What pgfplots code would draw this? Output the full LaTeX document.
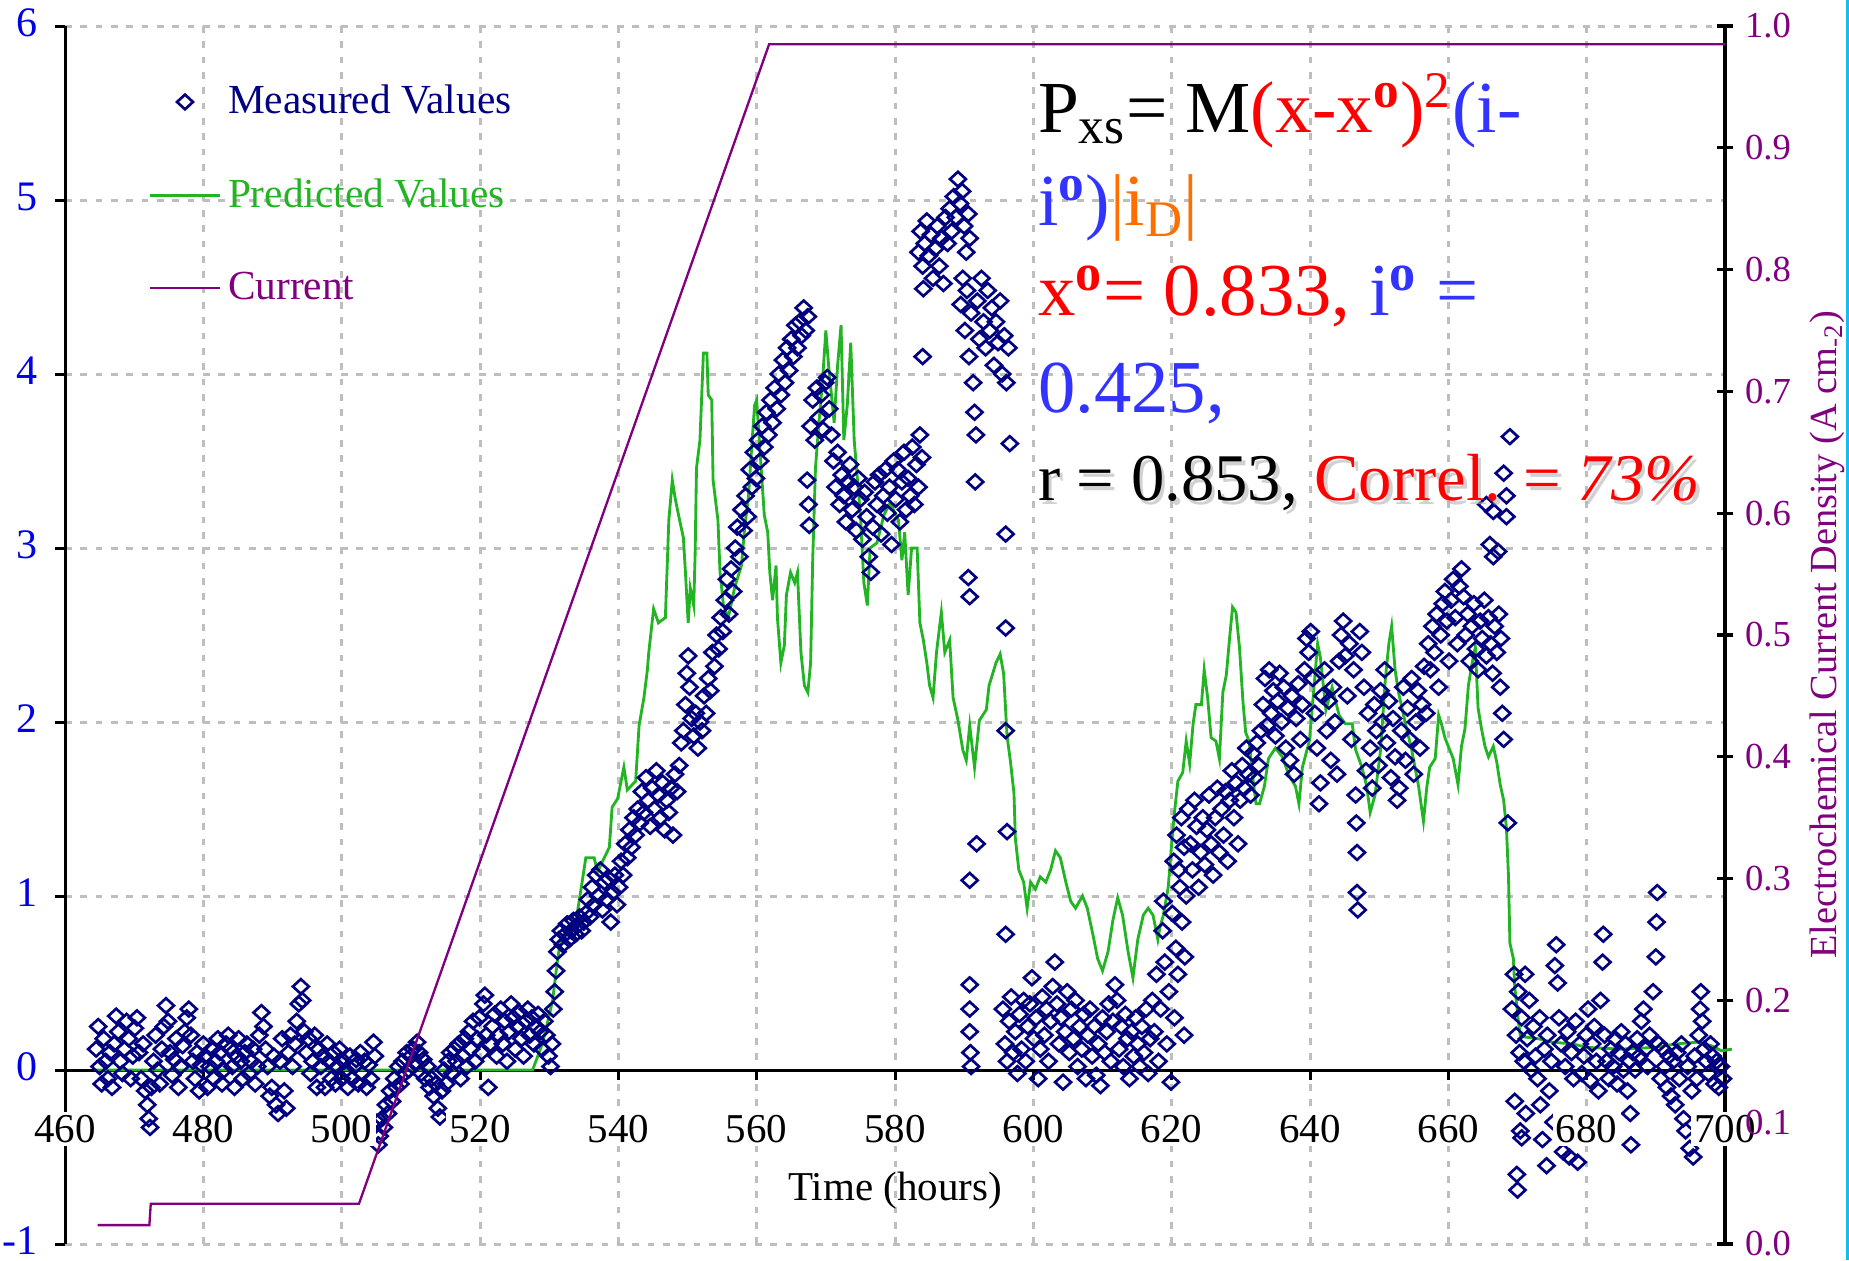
\documentclass[border=0pt]{standalone}
\usepackage{pgfplots}
\pgfplotsset{compat=1.18}
\usepackage{fontspec}
\setmainfont{Liberation Serif}

\definecolor{navyD}{RGB}{0,0,128}
\definecolor{greenP}{RGB}{34,180,34}
\definecolor{purpleC}{RGB}{128,0,128}
\definecolor{blueF}{RGB}{51,51,255}
\definecolor{orangeF}{RGB}{255,110,0}
\definecolor{tickblue}{RGB}{0,0,230}
\definecolor{gridgray}{RGB}{190,190,190}
\definecolor{cyanedge}{RGB}{20,190,240}

\newcommand{\dg}{\textsuperscript{\textbf{o}}}

\pgfplotsset{
  layers/labels on top/.define layer set={axis background,axis grid,axis ticks,axis lines,pre main,main,axis tick labels,axis descriptions,axis foreground}{/pgfplots/layers/standard},
}

\begin{document}
\begin{tikzpicture}

% left axis: measured and predicted values
\begin{axis}[
  set layers=labels on top,
  at={(19.5pt,4.8pt)}, anchor=south west,
  scale only axis, width=498pt, height=365.4pt,
  xmin=460, xmax=700, ymin=-1, ymax=6,
  clip=false,
  axis x line*=middle, axis y line*=left,
  hide obscured x ticks=false, hide obscured y ticks=false,
  axis line style={black, line width=0.9pt},
  xtick={460,480,...,700},
  xticklabels={460,480,500,520,540,560,580,600,620,640,660,680,700},
  ytick={-1,0,1,2,3,4,5,6},
  yticklabels={-1,0,1,2,3,4,5,6},
  tick align=outside,
  major tick length=3pt,
  tick style={black, line width=0.9pt},
  grid=major,
  grid style={gridgray, line width=0.9pt, dash pattern=on 2pt off 2.6pt},
  xticklabel style={font=\fontsize{12.3}{14}\selectfont, fill=white, inner sep=1pt, yshift=-9.3pt},
  yticklabel style={font=\fontsize{12.6}{14}\selectfont, text=tickblue, xshift=-1.6pt, yshift=0.9pt},
  xlabel={Time (hours)},
  xlabel style={at={(axis description cs:0.5,0.044)}, anchor=center, font=\fontsize{12.3}{14}\selectfont},
  legend cell align=left,
  legend style={draw=none, fill=none, at={(axis description cs:0.050,0.9575)}, anchor=north west,
    inner sep=0pt, row sep=13.9pt, font=\fontsize{12.4}{14}\selectfont, nodes={inner sep=2pt}},
  legend image code/.code={\draw[mark repeat=2,mark phase=2,#1] plot coordinates {(0pt,0pt) (10.5pt,0pt) (21pt,0pt)};},
]
\addlegendimage{only marks, mark=diamond, navyD, line width=0.8pt, mark size=2.2pt, mark options={xscale=1.45}}
\addlegendentry{\textcolor{navyD}{Measured Values}}
\addlegendimage{greenP, line width=0.8pt}
\addlegendentry{\textcolor{greenP}{Predicted Values}}
\addlegendimage{purpleC, line width=0.7pt}
\addlegendentry{\textcolor{purpleC}{Current}}

\addplot[greenP, line width=0.85pt, forget plot] coordinates {
(464.5,0)(527.6,0)(529.1,0.16)(530.5,0.40)(531.2,0.63)(531.7,0.76)(533.9,0.86)(534.8,1.09)
(535.3,1.22)(536.5,1.22)(537.0,1.14)(538.7,1.28)(539.1,1.51)(539.9,1.56)(540.8,1.74)(541.3,1.61)
(542.5,1.66)(543.0,1.98)(543.7,2.14)(544.2,2.30)(544.4,2.40)(545.1,2.65)(545.8,2.57)(546.8,2.60)
(547.3,3.16)(547.8,3.39)(548.2,3.29)(548.7,3.19)(549.4,3.06)(549.7,2.86)(550.1,2.57)(550.4,2.77)
(550.9,2.67)(551.1,2.96)(551.3,3.46)(551.8,3.62)(552.3,4.12)(552.8,4.12)(553.0,3.88)(553.5,3.85)
(553.7,3.39)(554.4,3.16)(554.7,2.86)(555.2,2.67)(555.9,2.60)(556.8,2.77)(557.8,2.90)(558.3,3.13)
(558.8,3.29)(559.3,3.59)(559.7,3.82)(560.0,3.85)(560.5,3.55)(561.1,3.19)(561.6,3.09)(561.9,2.86)
(562.3,2.70)(562.8,2.90)(563.0,2.60)(563.5,2.34)(564.0,2.44)(564.3,2.73)(564.9,2.86)(565.5,2.80)
(565.9,2.86)(566.4,2.40)(566.9,2.21)(567.4,2.17)(567.8,2.34)(568.1,2.93)(568.5,3.46)(569.0,3.72)
(569.5,3.95)(570.0,4.25)(570.4,4.05)(571.2,3.72)(571.7,4.05)(572.2,4.28)(572.6,3.62)(573.1,3.82)
(573.6,4.18)(574.1,3.62)(575.0,3.19)(575.5,2.80)(576.0,2.67)(576.4,3.00)(577.4,3.03)(578.4,3.19)
(579.3,3.26)(580.5,3.16)(581.0,2.93)(581.4,3.09)(581.9,2.73)(582.4,3.00)(583.2,3.00)(583.6,2.57)
(584.1,2.47)(584.6,2.34)(585.0,2.21)(585.5,2.14)(586.0,2.40)(586.7,2.63)(587.2,2.40)(587.9,2.47)
(588.4,2.14)(589.1,2.01)(589.8,1.84)(590.3,1.78)(590.8,1.98)(591.5,1.74)(592.2,2.01)(593.2,2.07)
(593.6,2.21)(594.6,2.34)(595.2,2.39)(595.7,2.28)(596.2,1.92)(596.7,1.77)(597.2,1.59)(597.4,1.33)
(597.9,1.15)(598.6,1.08)(599.1,0.93)(599.6,1.08)(600.3,1.04)(601.0,1.11)(601.8,1.08)(602.5,1.15)
(603.2,1.26)(603.9,1.22)(604.7,1.08)(605.4,0.97)(606.1,0.93)(607.1,1.00)(607.8,0.93)(608.6,0.78)
(609.3,0.64)(610.0,0.57)(610.8,0.68)(611.5,0.86)(612.2,0.99)(612.9,0.89)(613.7,0.68)(614.4,0.53)
(615.1,0.75)(615.9,0.89)(616.6,0.93)(617.3,0.89)(618.0,0.75)(618.3,0.82)(618.8,0.89)(619.5,1.05)
(620.0,1.30)(620.4,1.48)(620.9,1.66)(621.6,1.71)(622.1,1.89)(622.6,1.76)(623.1,1.99)(623.5,2.10)
(624.3,2.10)(624.7,2.30)(625.2,2.14)(625.7,1.91)(626.4,1.89)(626.9,1.79)(627.4,2.17)(627.9,2.27)
(628.3,2.45)(628.8,2.66)(629.3,2.63)(629.8,2.43)(630.3,2.12)(630.7,1.94)(631.2,1.89)(631.7,1.69)
(632.2,1.53)(632.7,1.53)(633.4,1.63)(634.0,1.79)(635.0,1.85)(636.0,1.80)(637.0,1.69)(637.9,1.63)
(638.4,1.53)(638.9,1.74)(639.9,1.89)(640.3,2.07)(641.1,2.45)(641.5,2.37)(642.3,2.07)(643.2,2.20)
(644.2,2.04)(645.1,1.99)(646.1,1.99)(646.6,1.84)(647.5,1.74)(648.2,1.63)(648.7,1.48)(649.4,1.58)
(650.2,1.84)(650.9,2.25)(651.4,2.45)(651.8,2.55)(652.3,2.30)(652.8,2.17)(653.8,1.99)(654.7,1.84)
(655.7,1.63)(656.4,1.43)(656.9,1.63)(657.3,1.74)(658.1,1.79)(658.6,2.04)(659.0,1.99)(659.5,1.91)
(660.2,1.84)(660.7,1.79)(661.4,1.64)(661.9,1.86)(662.4,1.96)(662.9,2.21)(663.4,2.33)(663.9,2.43)
(664.3,2.08)(664.8,1.96)(665.3,1.86)(665.8,1.80)(666.5,1.86)(667.0,1.77)(667.5,1.64)(668.0,1.55)
(668.4,1.39)(668.7,1.11)(668.9,0.73)(669.4,0.64)(669.6,0.48)(670.1,0.29)(670.4,0.20)(671.0,0.19)
(673.0,0.18)(675.0,0.16)(678.0,0.15)(680.0,0.13)(685.0,0.12)(690.0,0.13)(693.0,0.15)(696.0,0.16)
(698.0,0.14)(699.5,0.11)(701.0,0.12)
};

\addplot[only marks, mark=diamond, navyD, line width=0.8pt, mark size=2.2pt, mark options={xscale=1.45}, forget plot] coordinates {
(464.5,0.12)(464.8,0.25)(465.0,0.02)(465.3,-0.08)(465.6,0.18)(465.9,0.05)(466.2,-0.05)(466.5,0.10)
(466.8,-0.10)(467.1,0.15)(467.4,0.31)(467.7,0.22)(468.0,0.05)(468.3,-0.02)(468.6,0.12)(468.9,0.28)
(469.2,0.18)(469.5,-0.05)(469.8,0.08)(470.1,0.24)(470.4,0.30)(470.7,0.10)(471.0,-0.05)(471.3,0.15)
(471.6,-0.12)(471.9,-0.20)(472.1,-0.28)(472.3,-0.33)(472.5,-0.10)(472.8,0.05)(473.1,0.20)(473.4,0.00)
(473.7,-0.08)(474.0,0.12)(474.3,0.25)(474.6,0.37)(474.9,0.28)(475.2,0.10)(475.5,-0.03)(475.8,0.06)
(476.1,0.18)(476.4,-0.10)(476.7,0.02)(477.0,0.14)(477.3,0.22)(477.6,0.30)(477.9,0.35)(478.2,0.20)
(478.5,0.05)(478.8,-0.05)(479.1,0.10)(479.4,-0.12)(479.7,0.03)(480.0,0.15)(480.3,0.08)(480.6,-0.10)
(480.9,0.02)(481.2,0.12)(481.5,-0.05)(481.8,0.05)(482.1,0.18)(482.4,0.10)(482.7,-0.08)(483.0,0.00)
(483.3,0.15)(483.6,0.20)(483.9,0.12)(484.2,0.02)(484.5,-0.10)(484.8,0.08)(485.1,0.18)(485.4,0.05)
(485.7,-0.05)(486.0,0.10)(486.3,0.15)(486.6,-0.02)(486.9,0.05)(487.2,0.12)(487.5,-0.08)(487.8,0.02)
(488.1,0.20)(488.4,0.33)(488.7,0.25)(489.0,0.12)(489.3,0.02)(489.6,-0.15)(489.9,-0.10)(490.2,0.08)
(490.5,-0.20)(490.8,-0.25)(491.1,0.05)(491.4,0.18)(491.7,-0.12)(492.0,-0.22)(492.3,0.10)(492.6,0.20)
(492.9,0.02)(493.2,0.15)(493.5,0.28)(493.8,0.38)(494.1,0.48)(494.3,0.40)(494.6,0.22)(494.9,0.10)
(495.2,0.18)(495.5,-0.02)(495.8,0.05)(496.1,0.20)(496.4,-0.10)(496.7,0.12)(497.0,0.02)(497.3,0.08)
(497.6,-0.10)(497.9,0.15)(498.2,0.05)(498.5,-0.05)(498.8,0.10)(499.1,-0.08)(499.4,0.02)(499.7,0.12)
(500.0,-0.05)(500.3,0.05)(500.6,0.00)(500.9,-0.10)(501.2,0.08)(501.5,-0.05)(501.8,0.02)(502.1,0.06)
(502.4,-0.08)(502.7,0.10)(503.0,-0.02)(503.3,0.05)(503.6,-0.10)(503.9,0.03)(504.2,-0.05)(504.6,0.16)
(504.8,0.08)(505.1,-0.30)(505.3,-0.43)(505.5,-0.38)(505.8,-0.28)(506.1,-0.33)(506.4,-0.20)(506.7,-0.25)
(507.0,-0.12)(507.3,-0.18)(507.6,-0.05)(507.9,-0.10)(508.2,0.02)(508.5,-0.08)(508.8,0.05)(509.1,-0.02)
(509.4,0.10)(509.7,0.00)(510.0,0.08)(510.3,0.12)(510.6,0.04)(510.9,0.16)(511.2,0.10)(511.5,-0.02)
(511.8,0.06)(512.1,-0.05)(512.4,0.02)(512.7,-0.10)(513.0,-0.05)(513.3,-0.15)(513.6,-0.08)(513.9,-0.22)
(514.2,-0.27)(514.5,-0.12)(514.8,0.00)(515.1,-0.08)(515.4,0.05)
(515.7,0.10)(516.0,-0.02)(516.3,0.12)(516.6,0.05)(516.9,0.15)(517.2,-0.05)(517.5,0.08)(517.8,0.18)
(518.1,0.02)(518.4,0.22)(518.7,0.12)(519.0,0.28)(519.3,0.05)(519.6,0.18)(519.9,0.30)(520.2,0.10)
(520.5,0.38)(520.7,0.43)(520.9,0.20)(521.2,-0.10)(521.5,0.15)(521.8,0.25)(522.1,0.32)(522.4,0.08)
(522.7,0.20)(523.0,0.35)(523.3,0.15)(523.6,0.28)(523.9,0.05)(524.2,0.22)(524.5,0.38)(524.8,0.30)
(525.1,0.12)(525.4,0.25)(525.7,0.33)(526.0,0.18)(526.3,0.08)(526.6,0.28)(526.9,0.35)(527.2,0.20)
(527.5,0.30)(527.8,0.15)(528.1,0.25)(528.4,0.32)(528.7,0.22)(529.0,0.12)(529.3,0.28)(529.6,0.20)
(529.9,0.08)(530.2,0.02)(530.4,0.15)(530.6,0.35)(530.8,0.45)(531.0,0.57)(531.2,0.68)(531.4,0.75)
(531.7,0.80)(532.0,0.72)(532.3,0.78)(532.6,0.84)(532.9,0.75)(533.2,0.80)(533.5,0.86)(533.8,0.78)
(534.1,0.83)(534.4,0.88)(534.7,0.80)(535.0,0.85)(535.3,0.90)(535.6,0.98)(535.9,0.88)(536.2,1.05)
(536.5,0.95)(536.8,1.12)(537.1,1.00)(537.4,1.15)(537.7,0.92)(538.0,1.08)(538.3,0.98)(538.6,1.10)
(538.9,0.85)(539.2,1.02)(539.5,1.12)(539.8,0.95)(540.1,1.05)(540.4,1.20)(540.7,1.12)(541.0,1.30)
(541.3,1.22)(541.6,1.38)(541.9,1.28)(542.2,1.45)(542.5,1.35)(542.8,1.50)(543.1,1.42)(543.4,1.60)
(543.7,1.48)(544.0,1.68)(544.3,1.55)(544.6,1.40)(544.9,1.62)(545.2,1.50)(545.5,1.72)(545.8,1.58)
(546.1,1.45)(546.4,1.65)(546.7,1.38)(547.0,1.55)(547.3,1.48)(547.6,1.62)(547.9,1.35)(548.2,1.70)
(548.5,1.60)(548.8,1.75)(549.1,1.88)(549.4,1.95)(549.7,2.10)(549.9,2.28)(550.1,2.38)(550.3,2.20)
(550.6,2.02)(550.9,1.92)(551.2,2.05)(551.5,1.85)(551.8,2.00)(552.1,1.95)(552.4,2.15)(552.7,2.05)
(553.0,2.25)(553.3,2.18)(553.6,2.40)(553.9,2.32)(554.2,2.50)(554.5,2.42)(554.8,2.60)(555.1,2.52)
(555.4,2.70)(555.7,2.82)(556.0,2.62)(556.3,2.88)(556.6,2.75)(556.9,3.00)(557.2,3.12)(557.5,2.95)
(557.8,3.22)(558.1,3.10)(558.4,3.30)(558.7,3.18)(559.0,3.45)(559.3,3.35)(559.6,3.55)(559.9,3.40)
(560.2,3.62)(560.5,3.50)(560.8,3.70)(561.1,3.58)(561.4,3.78)(561.7,3.65)(562.0,3.85)(562.3,3.72)
(562.6,3.92)(562.9,3.80)(563.2,4.00)(563.5,3.88)(563.8,4.08)(564.1,3.95)(564.4,4.15)(564.7,4.02)
(565.0,4.20)(565.3,4.10)(565.6,4.28)(565.9,4.15)(566.2,4.30)(566.5,4.22)(566.8,4.38)(567.1,4.25)
(567.4,4.33)(567.3,3.39)(567.5,3.25)(567.6,3.13)(567.8,3.70)(568.1,3.85)(568.4,3.62)(568.7,3.92)
(569.0,3.75)(569.3,3.88)(569.6,3.68)(569.9,3.95)(570.2,3.98)(570.5,3.80)(570.8,3.65)
(571.1,3.50)(571.4,3.35)(571.7,3.55)(572.0,3.25)(572.3,3.42)(572.6,3.30)(572.9,3.15)(573.2,3.38)
(573.5,3.48)(573.8,3.22)(574.1,3.35)(574.4,3.10)(574.7,3.40)(575.0,3.28)(575.3,3.05)(575.6,3.32)
(575.9,3.18)(576.2,2.95)(576.5,2.86)(576.8,3.12)(577.1,3.38)(577.4,3.25)(577.7,3.42)(578.0,3.08)
(578.3,3.30)(578.6,3.45)(578.9,3.20)(579.2,3.35)(579.5,3.02)(579.8,3.50)
(580.1,3.28)(580.4,3.45)(580.7,3.15)(581.0,3.38)(581.3,3.55)(581.6,3.22)(581.9,3.40)(582.2,3.30)
(582.5,3.58)(582.8,3.25)(583.1,3.48)(583.4,3.35)(583.6,3.65)(583.9,3.52)(584.0,4.10)(584.1,4.49)
(583.4,4.70)(583.7,4.82)(584.0,4.62)(584.3,4.75)(584.6,4.88)(584.9,4.68)(585.2,4.80)(585.5,4.55)
(585.8,4.72)(586.1,4.85)(586.4,4.62)(586.7,4.78)(587.0,4.52)(587.3,4.90)(587.6,4.75)(587.9,4.95)
(588.2,4.82)(588.5,5.02)(588.8,4.90)(589.1,5.12)(589.4,4.98)(589.7,5.05)(590.0,4.85)(590.3,4.70)
(590.6,4.92)(590.8,4.78)
(589.5,4.40)(589.8,4.55)(590.1,4.25)(590.4,4.48)(590.7,4.10)(591.0,4.35)(591.3,3.95)(591.5,3.78)
(591.7,3.65)(591.6,3.38)(591.9,4.42)(592.2,4.20)(592.5,4.55)(592.8,4.30)(593.1,4.15)(593.4,4.48)
(593.7,4.25)(594.0,4.38)(594.3,4.05)(594.6,4.30)(594.9,4.18)(595.2,4.42)(595.5,4.00)(595.8,4.22)
(596.1,3.95)(596.4,4.15)(596.6,3.60)
(590.6,2.83)(590.8,2.72)(590.8,1.09)(591.8,1.30)(590.8,0.49)(590.8,0.35)(590.8,0.22)(590.9,0.10)
(591.0,0.02)(596.0,3.08)(596.0,2.54)(596.0,1.95)(596.2,1.37)(596.0,0.78)
(595.6,0.35)(595.9,0.15)(596.2,0.05)(596.5,0.28)(596.8,0.42)(597.1,0.10)(597.4,0.22)(597.7,-0.02)
(598.0,0.32)(598.3,0.12)(598.6,0.40)(598.9,0.05)(599.2,0.25)(599.5,0.38)(599.8,0.53)(600.1,0.18)
(600.4,0.30)(600.7,-0.05)(601.0,0.12)(601.3,0.42)(601.6,0.20)(601.9,0.35)(602.2,0.05)(602.5,0.28)
(602.8,0.48)(603.1,0.62)(603.4,0.38)(603.7,0.15)(604.0,0.30)(604.3,-0.07)(604.6,0.22)(604.9,0.45)
(605.2,0.10)(605.5,0.35)(605.8,0.18)(606.1,0.40)(606.4,0.02)(606.7,0.25)(607.0,0.12)(607.3,0.32)
(607.6,-0.05)(607.9,0.20)(608.2,0.35)(608.5,0.08)(608.8,0.25)(609.1,-0.03)(609.4,0.15)(609.7,-0.09)
(610.0,0.30)(610.3,0.10)(610.6,0.22)(610.9,0.38)(611.2,0.05)(611.5,0.28)(611.8,0.49)(612.1,0.40)
(612.4,0.12)(612.7,0.25)(613.0,0.02)(613.3,0.32)(613.6,0.18)(613.9,-0.05)(614.2,0.22)(614.5,0.08)
(614.8,0.30)(615.1,0.15)(615.4,0.02)(615.7,0.25)(616.0,0.10)(616.3,0.35)(616.6,-0.02)(616.9,0.18)
(617.2,0.40)(617.5,0.22)(617.8,0.55)(618.1,0.05)(618.4,0.35)(618.7,0.80)(618.8,0.97)(619.0,0.62)
(619.3,0.15)(619.6,0.45)(619.9,-0.07)(620.1,0.90)(620.4,0.30)(620.6,0.70)(620.9,0.55)(621.2,1.05)
(621.5,0.85)(621.8,0.20)(621.9,0.65)
(620.3,1.20)(620.7,1.35)(621.0,1.15)(621.4,1.45)(621.8,1.28)(622.1,1.00)(622.4,1.50)(622.7,1.30)
(623.0,1.15)(623.3,1.55)(623.6,1.40)(623.9,1.05)(624.2,1.25)(624.5,1.45)(624.8,1.18)(625.1,1.38)
(625.4,1.58)(625.7,1.30)(626.0,1.12)(626.3,1.45)(626.6,1.62)(626.9,1.25)(627.2,1.50)(627.5,1.35)
(627.8,1.60)(628.1,1.20)(628.4,1.55)(628.7,1.72)(629.0,1.45)(629.3,1.65)(629.6,1.30)(629.9,1.55)
(630.2,1.75)(630.5,1.62)(630.8,1.85)(631.1,1.70)(631.4,1.58)(631.7,1.82)(632.0,1.68)(632.3,1.88)
(632.6,1.75)(632.9,1.95)(633.2,2.10)(633.5,2.25)(633.8,1.98)(634.1,2.30)(634.4,2.05)(634.7,2.18)
(635.0,1.92)(635.3,2.12)(635.6,2.28)(635.9,2.00)(636.2,2.20)(636.5,1.85)(636.8,2.08)(637.1,1.78)
(637.4,2.15)(637.7,1.70)(638.0,2.02)(638.3,2.22)(638.6,1.90)(638.9,2.10)(639.2,2.30)(639.5,2.48)
(639.8,2.40)(640.1,2.52)(640.4,2.25)(640.7,2.05)(641.0,1.85)(641.3,1.53)(641.5,1.65)(641.8,2.15)
(642.1,2.30)(642.4,1.95)(642.7,2.12)(643.0,1.78)(643.3,2.20)(643.6,2.00)(643.9,1.70)(644.2,2.35)
(644.5,2.50)(644.8,2.58)(645.1,2.38)(645.4,2.15)(645.7,2.45)(646.0,1.90)(646.3,2.30)(646.6,1.58)
(646.7,1.42)(646.8,1.25)(646.8,1.02)(646.9,0.92)(647.2,2.52)(647.5,2.40)(647.8,2.20)(648.1,1.72)
(648.4,2.05)(648.7,1.85)(649.0,1.62)(649.3,2.10)(649.6,1.95)(649.9,1.75)(650.2,2.18)(650.5,2.00)
(650.8,2.30)(651.1,1.88)(651.4,2.12)(651.7,1.68)(652.0,2.02)(652.3,1.80)(652.6,1.55)(652.9,1.62)
(653.2,1.95)(653.5,2.20)(653.8,1.78)(654.1,2.08)(654.4,1.90)(654.7,2.25)(655.0,1.70)(655.3,2.00)
(655.6,2.18)(655.9,1.85)(656.2,2.10)(656.5,2.32)(656.8,2.05)
(657.1,2.45)(657.4,2.30)(657.7,2.55)(658.0,2.40)(658.3,2.62)(658.6,2.20)(658.9,2.50)(659.2,2.68)
(659.5,2.75)(659.8,2.58)(660.1,2.35)(660.4,2.70)(660.7,2.82)(661.0,2.60)(661.3,2.45)(661.6,2.78)
(661.9,2.88)(662.2,2.72)(662.5,2.50)(662.8,2.62)(663.1,2.35)(663.4,2.55)(663.7,2.68)(664.0,2.42)
(664.3,2.30)(664.6,2.58)(664.9,2.48)(665.2,2.70)(665.5,2.38)(665.8,2.60)(666.1,2.45)(666.4,2.28)
(666.7,2.55)(667.0,2.40)(667.3,2.62)(667.6,2.48)
(665.5,3.25)(666.0,3.02)(666.5,2.95)(666.5,3.21)(667.2,2.98)(667.5,2.20)(667.8,2.05)(668.0,1.90)
(668.0,3.43)(668.4,3.18)(668.4,3.30)(668.9,3.64)(668.6,1.42)
(669.2,0.35)(669.5,0.55)(669.6,-0.18)(669.8,0.20)(669.9,-0.60)(670.0,-0.69)(670.1,0.45)(670.3,0.10)
(670.4,-0.35)(670.6,0.30)(670.6,-0.39)(670.9,0.05)(671.1,0.55)(671.2,-0.25)(671.4,0.18)(671.7,0.40)
(672.0,0.00)(672.3,0.25)(672.6,0.08)(672.9,-0.05)(673.2,0.30)(673.3,-0.20)(673.6,-0.40)(673.9,0.12)
(674.2,-0.55)(674.3,0.20)(674.6,-0.12)(674.9,0.05)(675.2,-0.30)(675.4,0.60)(675.6,0.72)(675.8,0.50)
(676.0,0.30)(676.3,0.15)(676.6,-0.47)(676.9,0.02)(677.2,0.22)(677.5,-0.50)(677.8,0.10)(678.1,-0.05)
(678.4,0.28)(678.7,-0.53)(679.0,0.15)(679.3,-0.02)(679.6,0.08)(679.9,0.20)(680.2,0.35)(680.5,-0.06)
(680.8,0.15)(681.1,0.25)(681.4,0.05)(681.7,-0.12)(682.0,0.40)(682.3,0.62)(682.4,0.78)(682.6,0.20)
(682.9,0.05)(683.2,-0.05)(683.5,0.12)(683.8,0.02)(684.1,0.18)(684.4,-0.08)(684.7,0.10)(685.0,0.22)
(685.3,0.00)(685.6,0.15)(685.9,-0.12)(686.2,0.05)(686.3,-0.25)(686.4,-0.43)(686.7,0.10)(687.0,0.00)
(687.3,0.18)(687.6,0.08)(687.9,0.28)(688.2,0.35)(688.5,0.12)(688.8,0.02)(689.1,0.20)(689.6,0.45)
(690.0,0.65)(690.1,0.85)(690.2,1.02)(690.4,0.15)(690.7,-0.05)(691.0,0.12)(691.3,0.02)(691.6,-0.10)
(691.9,0.08)(692.2,-0.15)(692.5,0.05)(692.8,-0.20)(693.1,0.10)(693.4,-0.05)(693.7,0.15)(694.0,-0.28)
(694.3,-0.35)(694.6,0.02)(694.9,-0.45)(695.2,-0.12)(695.4,-0.50)(695.6,0.08)(695.9,-0.05)(696.2,0.20)
(696.4,0.35)(696.5,0.45)(696.7,0.28)(697.0,0.12)(697.3,0.05)(697.6,-0.02)(697.9,0.15)(698.2,0.08)
(698.5,-0.08)(698.8,0.05)(699.1,-0.10)(699.4,0.02)(699.7,-0.05)
};
\end{axis}

% right axis: current density
\begin{axis}[
  set layers=labels on top,
  at={(19.5pt,4.8pt)}, anchor=south west,
  scale only axis, width=498pt, height=365.4pt,
  xmin=460, xmax=700, ymin=0, ymax=1,
  axis x line=none, axis y line*=right,
  axis line style={black, line width=1pt},
  ytick={0,0.1,0.2,0.3,0.4,0.5,0.6,0.7,0.8,0.9,1.0},
  yticklabels={0.0,0.1,0.2,0.3,0.4,0.5,0.6,0.7,0.8,0.9,1.0},
  tick align=center, major tick length=5pt,
  tick style={black, line width=1pt},
  yticklabel style={font=\fontsize{11}{13}\selectfont, text=purpleC},
  ylabel={Electrochemical Current Density (A cm\textsubscript{-2})},
  ylabel style={at={(axis description cs:1.0615,0.5)}, anchor=center, font=\fontsize{11.5}{13}\selectfont, text=purpleC},
]
\addplot[purpleC, line width=0.7pt] coordinates {
(464.7,0.0155)(472.2,0.0155)(472.4,0.033)(502.5,0.033)(561.8,0.985)(700,0.985)
};
\end{axis}

% formula annotation
\begin{scope}[every node/.style={anchor=base west, inner sep=0pt}]
\node[font=\fontsize{22}{24}\selectfont] at (311.2pt,338.1pt)
  {P\textsubscript{xs}= M\textcolor{red}{(x-x\dg)\textsuperscript{2}}\textcolor{blueF}{(i-}};
\node[font=\fontsize{22}{24}\selectfont] at (311.2pt,310.2pt)
  {\textcolor{blueF}{i\dg)}\textcolor{orangeF}{|i\textsubscript{D}|}};
\node[font=\fontsize{22.4}{24}\selectfont] at (311.2pt,283.2pt)
  {\textcolor{red}{x\dg= 0.833,} \textcolor{blueF}{i\dg{} =}};
\node[font=\fontsize{22.4}{24}\selectfont] at (311.2pt,254.1pt)
  {\textcolor{blueF}{0.425,}};
\node[font=\fontsize{20}{24}\selectfont, text=black!30, opacity=0.6] at (312.3pt,226.6pt)
  {r = 0.853, Correl. = \textit{73\%}};
\node[font=\fontsize{20}{24}\selectfont] at (311.2pt,227.7pt)
  {r = 0.853, \textcolor{red}{Correl. = \textit{73\%}}};
\end{scope}

\draw[cyanedge, line width=0.9pt] (554.2pt,0pt) -- (554.2pt,378pt);
\pgfresetboundingbox
\useasboundingbox (0,0) rectangle (554.7pt,378pt);
\end{tikzpicture}
\end{document}
